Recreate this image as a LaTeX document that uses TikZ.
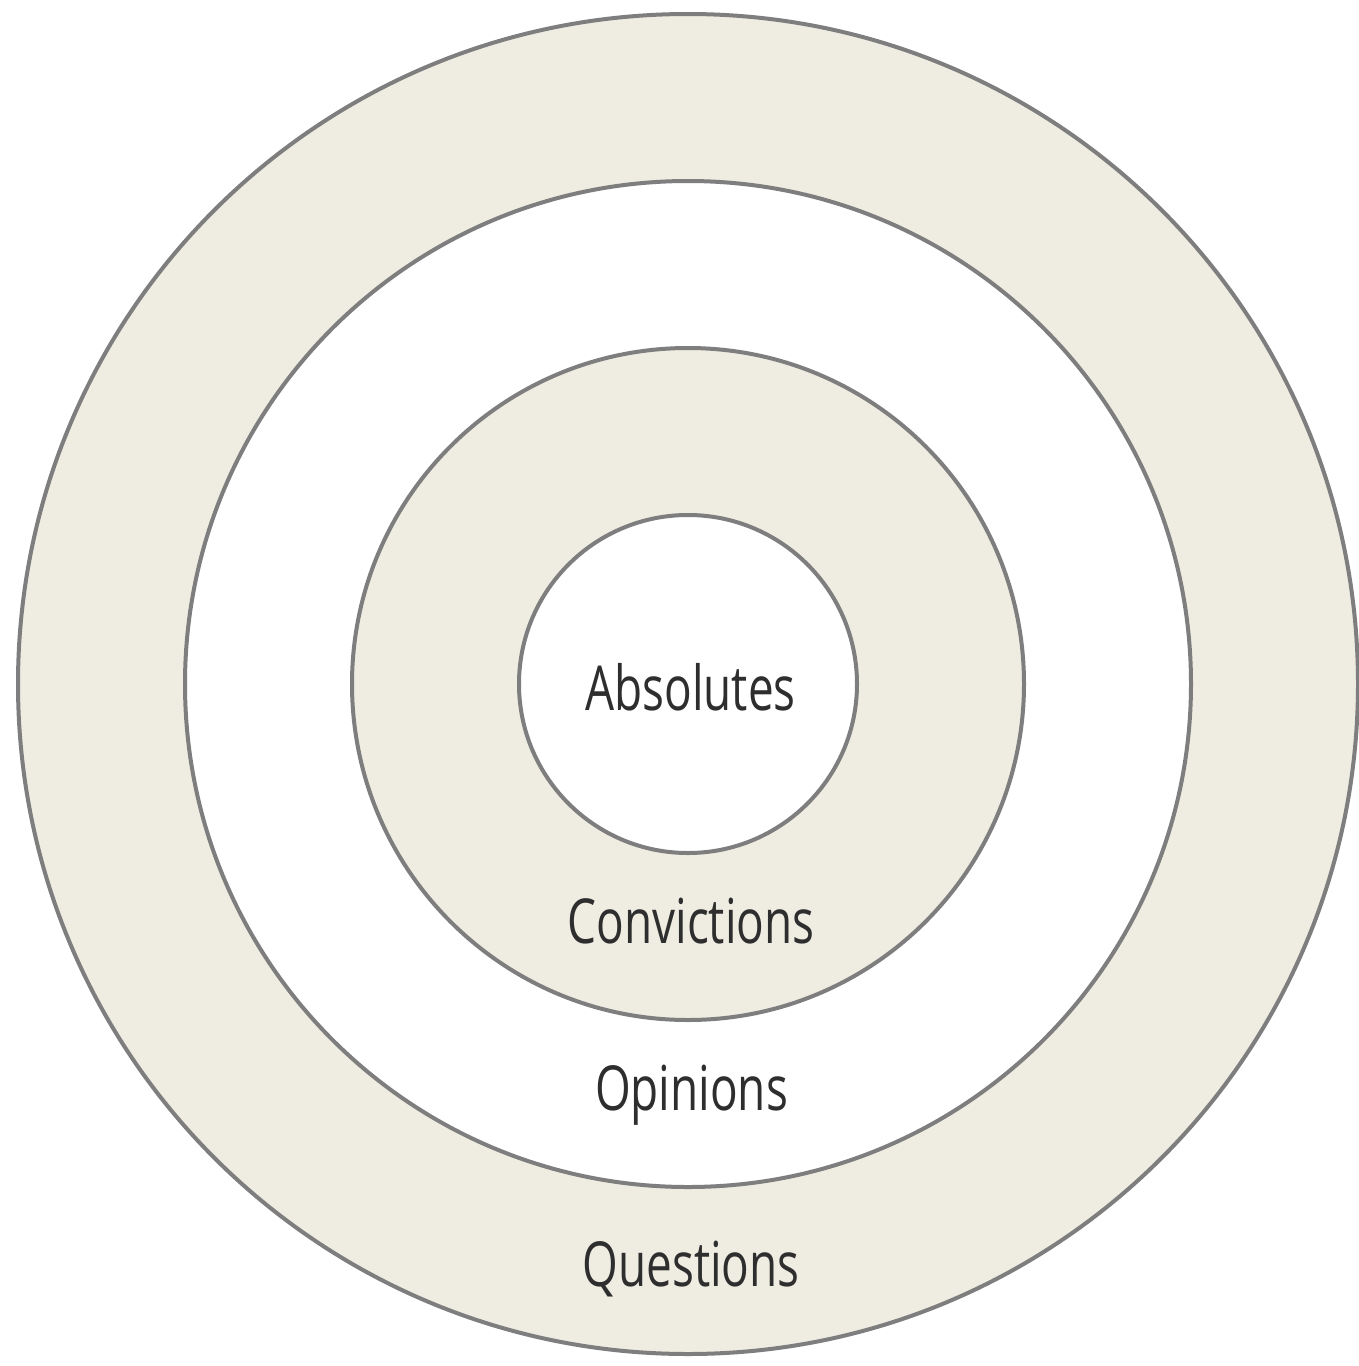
\documentclass[tikz,border=0pt]{standalone}
\usepackage{fontspec}
\newfontfamily\labfont[FakeStretch=0.74]{Open Sans}
\definecolor{ringfill}{HTML}{EFEDE2}
\definecolor{ringline}{HTML}{7E7E7E}
\definecolor{labcol}{HTML}{2E2E2E}
\begin{document}
\begin{tikzpicture}[x=1pt,y=-1pt,
  ring/.style={draw=ringline,line width=4pt},
  lab/.style={font=\labfont\fontsize{62}{70}\selectfont,text=labcol,anchor=base,inner sep=0pt}]
\useasboundingbox (0,0) rectangle (1358,1366);
\fill[white] (0,0) rectangle (1358,1366);
\coordinate (c) at (688,684);
\draw[ring,fill=ringfill] (c) circle[radius=670];
\draw[ring,fill=white] (c) circle[radius=503];
\draw[ring,fill=ringfill] (c) circle[radius=336];
\draw[ring,fill=white] (c) circle[radius=169];
\node[lab] (abs) at (690.5,710) {Absolutes};
\node[lab] (conv) at (691,943) {Convictions};
\node[lab] (opin) at (691.5,1110) {Opinions};
\node[lab] (ques) at (691,1286) {Questions};
\end{tikzpicture}
\end{document}
